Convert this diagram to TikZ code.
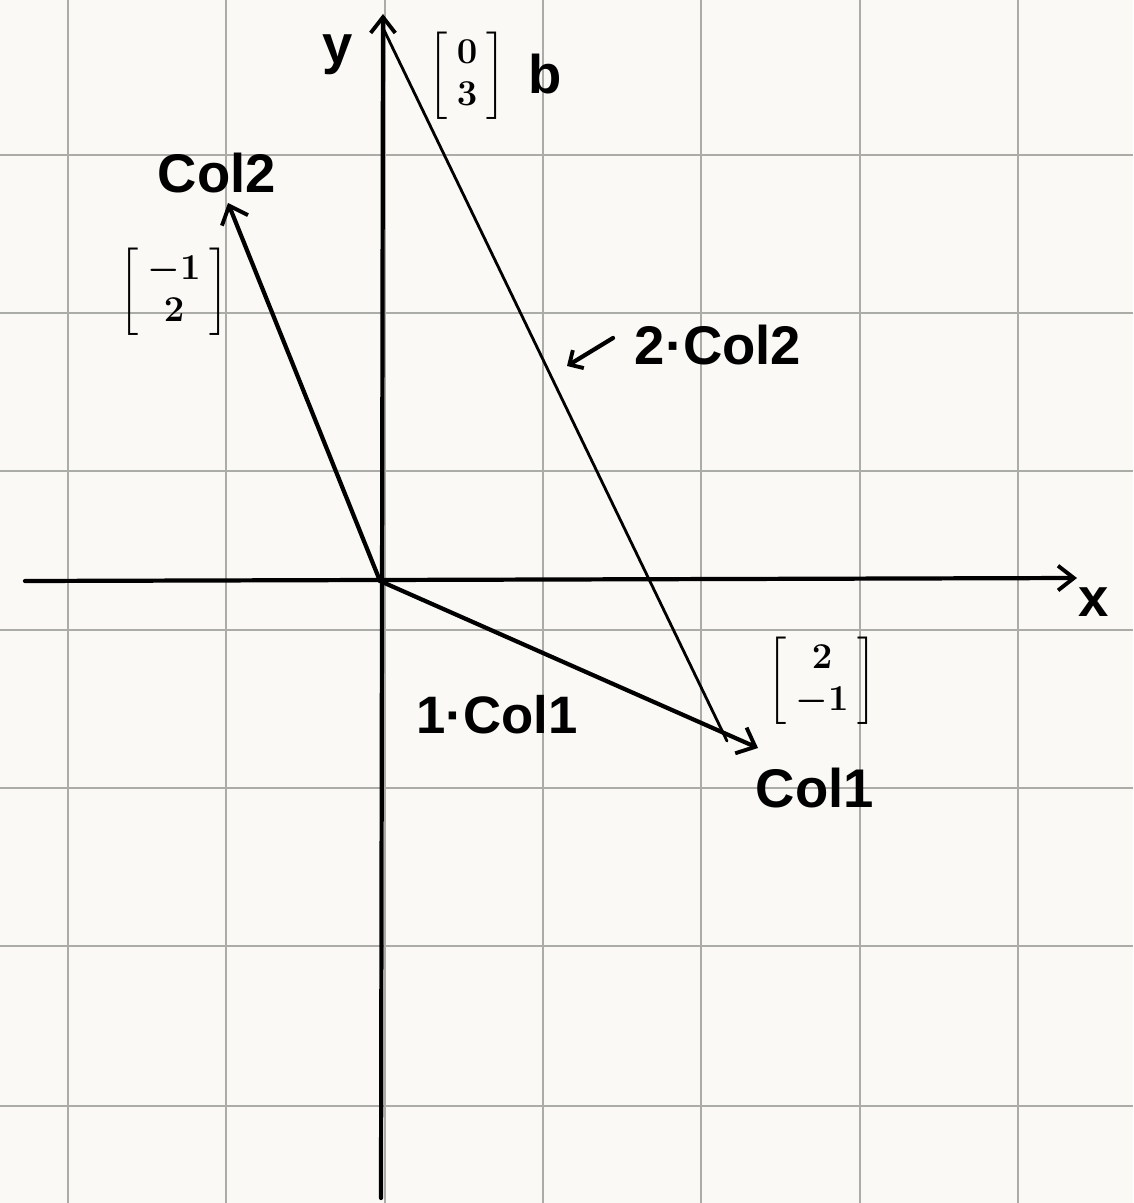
\documentclass[tikz,border=0pt]{standalone}
\usepackage{amsmath}
\usepackage{fontspec}
\setmainfont{Liberation Sans}
\usetikzlibrary{arrows.meta}
\definecolor{paper}{HTML}{FAF9F5}
\definecolor{gridc}{HTML}{ABABA7}
\begin{document}
\begin{tikzpicture}[x=0.02cm,y=-0.02cm,
  lab/.style={font=\fontsize{31}{37}\selectfont\bfseries, inner sep=0pt},
  smalllab/.style={font=\fontsize{30}{36}\selectfont\bfseries, inner sep=0pt},
  mat/.style={font=\fontsize{20}{24}\selectfont\boldmath, inner sep=0pt},
  gridline/.style={gridc, line width=1.1pt},
  axis/.style={line width=2.4pt, line cap=round},
  axisarrow/.style={axis, -{Straight Barb[length=9pt,width=14pt,line width=2.2pt]}},
  vec/.style={line width=2.4pt, line cap=round, -{Straight Barb[length=9pt,width=16pt,line width=2.2pt]}},
  thinline/.style={line width=1.6pt, line cap=round},
  pointer/.style={line width=2.4pt, line cap=round, -{Straight Barb[length=6pt,width=12pt,line width=2.2pt]}}]
\fill[paper] (0,0) rectangle (1133,1203);
\useasboundingbox (0,0) rectangle (1133,1203);
% grid
\foreach \gx in {68,226,385,543,701,860,1018} {\draw[gridline] (\gx,0) -- (\gx,1203);}
\foreach \gy in {155,313,471,630,788,946,1106} {\draw[gridline] (0,\gy) -- (1133,\gy);}
% points
\coordinate (O) at (380,581);
\coordinate (c2) at (228,203);
\coordinate (c1) at (758,748);
\coordinate (ytip) at (383,14);
\coordinate (ybot) at (381,1198);
\coordinate (xl) at (25,581);
\coordinate (xtip) at (1077,578);
\coordinate (bs) at (384,30);
\coordinate (be) at (727,741);
\coordinate (pa) at (613,338);
\coordinate (pb) at (567,366);
% axes
\draw[axisarrow] (ybot) -- (ytip);
\draw[axisarrow] (xl) -- (xtip);
% vectors
\draw[vec] (O) -- (c2);
\draw[vec] (O) -- (c1);
\draw[thinline] (bs) -- (be);
\draw[pointer] (pa) -- (pb);
% labels
\node[lab] (ylab) at (338,55) {y};
\node[lab] (xlab) at (1094,602) {x};
\node[lab] (blab) at (545,74) {b};
\node[mat] (bvec) at (467,76) {$\left[\begin{array}{@{\hspace{5pt}}c@{\hspace{5pt}}}0\\3\end{array}\right]$};
\node[lab] (col2) at (217,173) {Col2};
\node[mat] (c2vec) at (174,292) {$\left[\begin{array}{@{\hspace{5pt}}c@{\hspace{5pt}}}-1\\2\end{array}\right]$};
\node[lab] (twocol2) at (718,345) {2·Col2};
\node[smalllab] (onecol1) at (497,715) {1·Col1};
\node[lab] (col1) at (815,788) {Col1};
\node[mat] (c1vec) at (822,681) {$\left[\begin{array}{@{\hspace{5pt}}c@{\hspace{5pt}}}2\\-1\end{array}\right]$};
\end{tikzpicture}
\end{document}
